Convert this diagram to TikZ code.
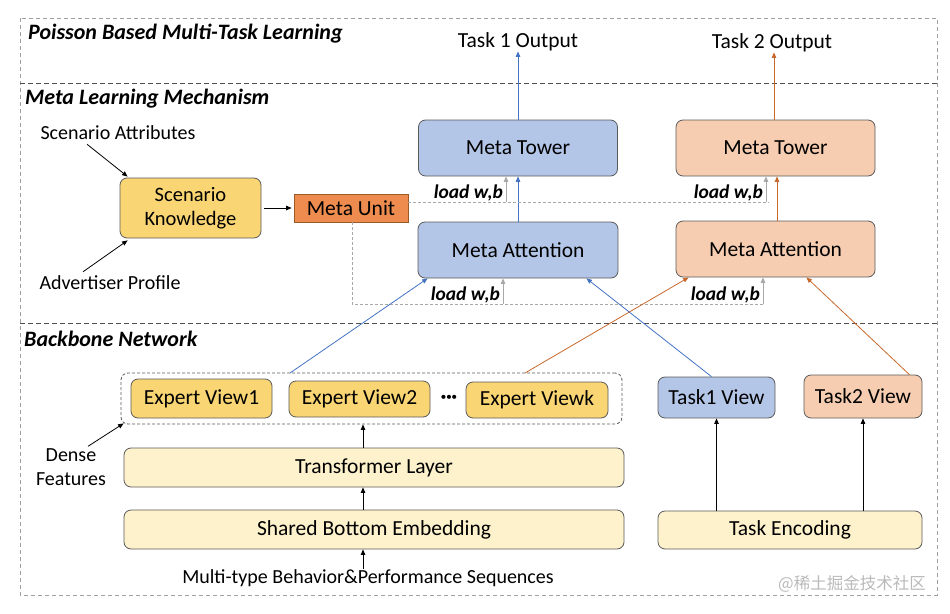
\documentclass[tikz,border=0pt]{standalone}
\usepackage{fontspec}
\setmainfont{Carlito}
\newfontfamily\cjkfont{Noto Sans CJK SC}
\usetikzlibrary{arrows.meta,calc}
\definecolor{bluefill}{HTML}{B4C6E7}
\definecolor{orangefill}{HTML}{F6CDB0}
\definecolor{yellowfill}{HTML}{F9D574}
\definecolor{lightyellow}{HTML}{FDF2CC}
\definecolor{unitfill}{HTML}{EE8C4F}
\definecolor{unitdraw}{HTML}{9C5B26}
\definecolor{boxdraw}{HTML}{5A5A5A}
\definecolor{bluearr}{HTML}{4472C4}
\definecolor{orangearr}{HTML}{C8682C}
\definecolor{loadgray}{HTML}{A8A8A8}
\definecolor{framegray}{HTML}{A0A0A0}
\definecolor{divgray}{HTML}{505050}
\begin{document}
\begin{tikzpicture}[x=1pt,y=-1pt,
  boxbase/.style={draw=boxdraw,line width=0.8pt,rounded corners=7pt,inner sep=0pt,
    font=\fontsize{21.5}{24}\selectfont,align=center},
  bluebox/.style={boxbase,fill=bluefill},
  orangebox/.style={boxbase,fill=orangefill},
  yellowbox/.style={boxbase,fill=yellowfill},
  lightbox/.style={boxbase,fill=lightyellow},
  plain/.style={inner sep=0pt,font=\fontsize{20}{24}\selectfont,align=center},
  sectitle/.style={inner sep=0pt,anchor=west,font=\fontsize{22}{24}\selectfont\bfseries\itshape},
  loadlbl/.style={inner sep=0pt,anchor=south east,font=\fontsize{19.5}{20}\selectfont\bfseries\itshape},
  arr/.style={-{Triangle[length=5.5pt,width=4.5pt]},line width=0.8pt,black},
  bluea/.style={arr,bluearr},
  orangea/.style={arr,orangearr},
  loada/.style={-{Triangle[length=5.5pt,width=4.5pt]},line width=0.9pt,loadgray},
  loadline/.style={dashed,dash pattern=on 3pt off 2pt,line width=0.8pt,loadgray},
]
\useasboundingbox (0,0) rectangle (950,613);
% frame and dividers
\draw[framegray,line width=0.8pt,dash pattern=on 4pt off 3pt] (20,18) rectangle (937,595);
\draw[divgray,line width=0.8pt,dash pattern=on 5pt off 3pt] (20,83) -- (937,83);
\draw[divgray,line width=0.8pt,dash pattern=on 5pt off 3pt] (20,323) -- (937,323);
% section titles
\node[sectitle] (t1) at (28,34) {Poisson Based Multi-Task Learning};
\node[sectitle] (t2) at (25,99) {Meta Learning Mechanism};
\node[sectitle] (t3) at (24,339) {Backbone Network};
% top
\node[plain,font=\fontsize{21.5}{24}\selectfont] (out1) at (518,42) {Task 1 Output};
\node[plain,font=\fontsize{21.5}{24}\selectfont] (out2) at (772,43) {Task 2 Output};
\node[bluebox,minimum width=199pt,minimum height=56pt] (tow1) at (518,148) {Meta Tower};
\node[orangebox,minimum width=199pt,minimum height=56pt] (tow2) at (775.5,148) {Meta Tower};
\node[bluebox,minimum width=200pt,minimum height=56pt] (att1) at (518,250) {Meta Attention};
\node[orangebox,minimum width=199pt,minimum height=56pt] (att2) at (775.5,249) {Meta Attention};
\node[draw=unitdraw,fill=unitfill,line width=0.8pt,inner sep=0pt,minimum width=114pt,minimum height=28pt,font=\fontsize{21.5}{24}\selectfont] (mu) at (351,208) {Meta Unit};
\node[yellowbox,minimum width=141pt,minimum height=60pt,font=\fontsize{20.5}{24}\selectfont] (sk) at (190.5,208) {Scenario\\Knowledge};
\node[plain] (sa) at (118,133) {Scenario Attributes};
\node[plain] (ap) at (110,283) {Advertiser Profile};
% backbone
\node[draw=boxdraw,dashed,dash pattern=on 3pt off 2pt,line width=0.8pt,rounded corners=7pt,minimum width=501pt,minimum height=51pt,inner sep=0pt] (group) at (371.5,398.5) {};
\node[yellowbox,minimum width=141pt,minimum height=39pt] (ev1) at (201.5,398.5) {Expert View1};
\node[yellowbox,minimum width=141pt,minimum height=36pt] (ev2) at (359.5,399) {Expert View2};
\node[inner sep=0pt,font=\fontsize{22}{24}\selectfont\bfseries] (dots) at (449,399) {·\kern-0.5pt·\kern-0.5pt·};
\node[yellowbox,minimum width=142pt,minimum height=36pt] (evk) at (537,400) {Expert Viewk};
\node[bluebox,minimum width=117pt,minimum height=41pt] (t1v) at (716.5,397.5) {Task1 View};
\node[orangebox,minimum width=118pt,minimum height=43pt] (t2v) at (863,396.5) {Task2 View};
\node[lightbox,minimum width=500pt,minimum height=39pt] (tl) at (374,467.5) {Transformer Layer};
\node[lightbox,minimum width=500pt,minimum height=39pt] (sb) at (374,529.5) {Shared Bottom Embedding};
\node[lightbox,minimum width=264pt,minimum height=38pt] (te) at (790,530) {Task Encoding};
\node[plain] (seq) at (368,578) {Multi-type Behavior\&Performance Sequences};
\node[plain] (df) at (71,467) {Dense\\Features};
\node[inner sep=0pt,text=black!27,font=\cjkfont\fontsize{16.5}{20}\selectfont] (wm) at (852,584) {@稀土掘金技术社区};
% output arrows
\coordinate (oc) at (774,0);
\coordinate (ac) at (777,0);
\draw[bluea] (tow1.north) -- (out1.south);
\draw[orangea] (tow2.north -| oc) -- (out2.south -| oc);
\draw[bluea] (att1.north) -- (tow1.south);
\draw[orangea] (att2.north -| ac) -- (tow2.south -| ac);
% load lines
\coordinate (lu1) at (506,202);
\coordinate (lu2) at (766,202);
\coordinate (lend) at (769,202);
\coordinate (ld0) at (352,304);
\coordinate (ld1) at (503,304);
\coordinate (ld2) at (763,304);
\draw[loadline] (mu.east |- lu1) -- (lend);
\draw[loadline] (mu.south -| ld0) -- (ld0) -- (ld2);
\draw[loada] (lu1) -- (lu1 |- tow1.south);
\draw[loada] (lu2) -- (lu2 |- tow2.south);
\draw[loada] (ld1) -- (ld1 |- att1.south);
\draw[loada] (ld2) -- (ld2 |- att2.south);
\node[loadlbl] (lw1) at ($(lu1)+(-3,-1)$) {load w,b};
\node[loadlbl] (lw2) at ($(lu2)+(-3,-1)$) {load w,b};
\node[loadlbl] (lw3) at ($(ld1)+(-3,-1)$) {load w,b};
\node[loadlbl] (lw4) at ($(ld2)+(-3,-1)$) {load w,b};
% scenario arrows
\draw[arr] ($(sa.south)+(-31,4)$) -- ($(sk.north west)+(8,-1)$);
\draw[arr] ($(ap.north)+(-27,-4)$) -- ($(sk.south west)+(8,2)$);
\draw[arr] ($(sk.east)+(3,0)$) -- ($(mu.west)+(-2,0)$);
% diagonal arrows
\coordinate (g1) at (290,373);
\coordinate (g2) at (525,373);
\draw[bluea] (g1) -- ($(att1.south west)+(10,0)$);
\draw[orangea] (g2) -- ($(att2.south west)+(13,0)$);
\draw[bluea] ($(t1v.north)+(-5,0)$) -- ($(att1.south east)+(-32,0)$);
\draw[orangea] ($(t2v.north east)+(-13,0)$) -- ($(att2.south east)+(-69,0)$);
% backbone arrows
\coordinate (col) at (363,0);
\draw[arr] (seq.north -| col) -- (sb.south -| col);
\draw[arr] (sb.north -| col) -- (tl.south -| col);
\draw[arr] (tl.north -| col) -- (group.south -| col);
\draw[arr] (te.north -| t1v.south) -- (t1v.south);
\draw[arr] (te.north -| t2v.south) -- (t2v.south);
\draw[arr] ($(df.north)+(17,-2)$) -- ($(group.south west)+(3,-1)$);
\end{tikzpicture}
\end{document}
